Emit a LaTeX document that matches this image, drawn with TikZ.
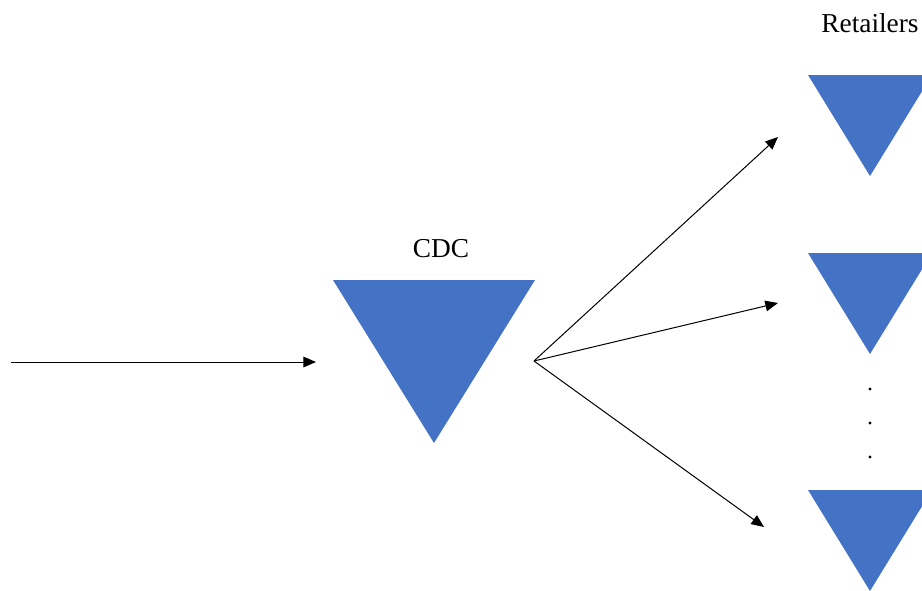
\documentclass[tikz,border=0pt]{standalone}
\usepackage{fontspec}
\setmainfont{Liberation Serif}
\usetikzlibrary{arrows.meta}

\definecolor{dcblue}{HTML}{4472C4}

\begin{document}
\begin{tikzpicture}[
    x=0.75pt, y=-0.75pt,
    label/.style={font=\fontsize{20.5}{24}\selectfont, inner sep=0pt},
    flow/.style={line width=0.75pt, -{Triangle[length=9.5pt, width=8pt]}},
    dc/.pic={\fill[dcblue] (-101,0) -- (101,0) -- (0,163) -- cycle;},
    shop/.pic={\fill[dcblue] (-62,0) -- (62,0) -- (0,101) -- cycle;}
]
   \useasboundingbox (0,0) rectangle (922,590);
   \clip (0,0) rectangle (922,590);

   % distribution centre and retailers
   \pic at (434,280) {dc};
   \pic at (870,75) {shop};
   \pic at (870,253) {shop};
   \pic at (870,490) {shop};

   \node[label] (cdc) at (441,249) {CDC};
   \node[label] (retail) at (870,23) {Retailers};

   % more retailers in between
   \foreach \y in {389,423,457}
      \fill (870,\y) circle (1.6);

   % arrow ends
   \coordinate (src) at (11,362);
   \coordinate (cdcin) at (316,362);
   \coordinate (hub) at (534,361);
   \coordinate (r1) at (778,137);
   \coordinate (r2) at (778,303);
   \coordinate (r3) at (764,527);

   % flows
   \draw[flow] (src) -- (cdcin);
   \draw[flow] (hub) -- (r1);
   \draw[flow] (hub) -- (r2);
   \draw[flow] (hub) -- (r3);
\end{tikzpicture}
\end{document}
